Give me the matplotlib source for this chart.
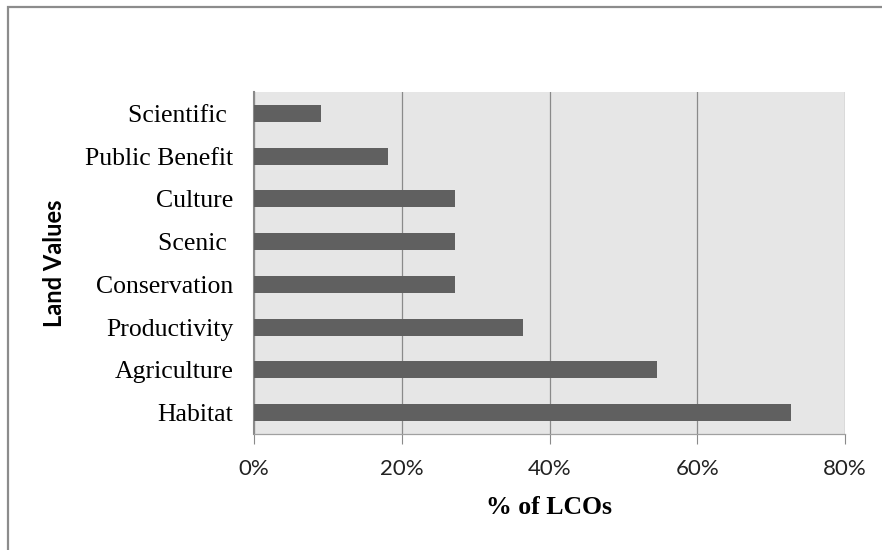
import matplotlib
matplotlib.use('Agg')
import matplotlib.pyplot as plt
from matplotlib.patches import Rectangle
from matplotlib.ticker import PercentFormatter

# Land values mentioned by LCOs (share of 11 organisations)
categories = ['Habitat', 'Agriculture', 'Productivity', 'Conservation',
              'Scenic ', 'Culture', 'Public Benefit', 'Scientific ']
values = [8 / 11, 6 / 11, 4 / 11, 3 / 11, 3 / 11, 3 / 11, 2 / 11, 1 / 11]
xticks = [0, 0.2, 0.4, 0.6, 0.8]

fig = plt.figure(figsize=(8.82, 5.5), dpi=100)
ax = fig.add_axes([254 / 882, 116 / 550, 591 / 882, 342 / 550])

# outer chart border (only left and top visible in the crop)
fig.patches.append(Rectangle((8 / 882, -0.1), 1.2, 0.1 + 543 / 550,
                             transform=fig.transFigure, fill=False,
                             edgecolor='#8c8c8c', linewidth=1.6))

ax.set_facecolor('#e6e6e6')
ax.barh(range(len(categories)), values, height=0.4, color='#606060', zorder=3)

ax.set_xlim(0, 0.8)
ax.set_ylim(-0.5, len(categories) - 0.5)
ax.set_xticks(xticks)
ax.xaxis.set_major_formatter(PercentFormatter(1.0, decimals=0))
ax.set_yticks(range(len(categories)))
ax.set_yticklabels(categories, fontfamily='Liberation Serif', fontsize=18.5)

for lab in ax.get_xticklabels():
    lab.set_fontfamily('Lato')
    lab.set_fontsize(16)

ax.grid(axis='x', color='#8a8a8a', linewidth=0.9, zorder=1)
ax.tick_params(axis='x', length=7, color='#8a8a8a', pad=11, labelcolor='#222222')
ax.tick_params(axis='y', length=0, pad=15)

for s in ['top', 'right']:
    ax.spines[s].set_visible(False)
ax.spines['left'].set_color('#8a8a8a')
ax.spines['left'].set_linewidth(1.5)
ax.spines['bottom'].set_color('#a0a0a0')
ax.spines['bottom'].set_linewidth(0.9)

ax.set_xlabel('% of LCOs', fontfamily='Liberation Serif', fontweight='bold',
              fontsize=18.5, labelpad=12)
ax.set_ylabel('Land Values', fontfamily='Lato', fontweight='bold',
              fontsize=17, labelpad=14)

fig.savefig('out.png', dpi=100)
